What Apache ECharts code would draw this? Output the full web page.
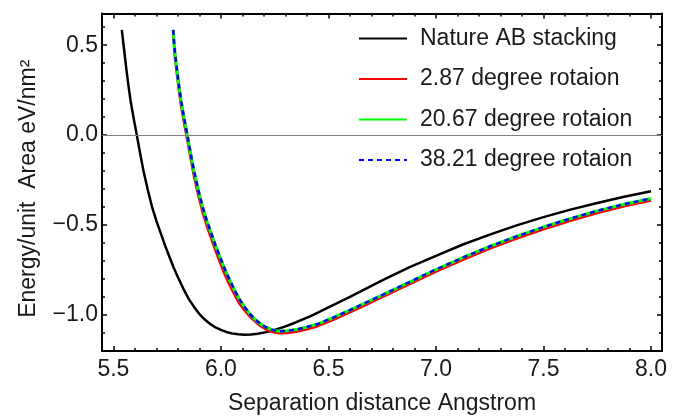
<!DOCTYPE html>
<html>
<head>
<meta charset="utf-8">
<script src="https://cdn.jsdelivr.net/npm/echarts@6/dist/echarts.min.js"></script>
<style>
html,body{margin:0;padding:0;background:#fff;}
#chart{width:679px;height:420px;}
</style>
</head>
<body>
<div id="chart"></div>
<script>
// ---- data ----
const seriesNames = ['Nature AB stacking', '2.87 degree rotaion', '20.67 degree rotaion', '38.21 degree rotaion'];

const blackX = [5.539, 5.55, 5.56, 5.57, 5.58, 5.595, 5.609, 5.625, 5.64, 5.66, 5.68, 5.70, 5.72, 5.74, 5.76, 5.78, 5.80, 5.825, 5.85, 5.875, 5.90, 5.925, 5.95, 5.975, 6.00, 6.025, 6.05, 6.08, 6.11, 6.14, 6.17, 6.21, 6.25, 6.30, 6.35, 6.42, 6.5, 6.6, 6.75, 6.875, 7.0, 7.125, 7.25, 7.375, 7.5, 7.625, 7.75, 7.875, 8.0];
const blackY = [0.585, 0.473, 0.37, 0.275, 0.19, 0.088, 0.0, -0.106, -0.2, -0.305, -0.4, -0.477, -0.545, -0.613, -0.675, -0.736, -0.79, -0.853, -0.91, -0.955, -0.995, -1.025, -1.05, -1.069, -1.083, -1.094, -1.102, -1.107, -1.11, -1.108, -1.104, -1.095, -1.083, -1.063, -1.04, -1.005, -0.958, -0.899, -0.808, -0.735, -0.671, -0.608, -0.553, -0.502, -0.456, -0.414, -0.377, -0.343, -0.312];

const rotX = [5.778, 5.785, 5.795, 5.805, 5.815, 5.83, 5.844, 5.86, 5.875, 5.895, 5.915, 5.935, 5.955, 5.975, 5.995, 6.015, 6.035, 6.06, 6.085, 6.11, 6.136, 6.16, 6.185, 6.21, 6.235, 6.255, 6.277, 6.31, 6.35, 6.40, 6.45, 6.525, 6.6, 6.675, 6.75, 6.875, 7.0, 7.125, 7.25, 7.375, 7.5, 7.625, 7.75, 7.875, 8.0];
const redY   = [0.575, 0.443, 0.34, 0.245, 0.16, 0.058, -0.03, -0.136, -0.23, -0.335, -0.43, -0.507, -0.575, -0.643, -0.705, -0.766, -0.82, -0.88, -0.935, -0.975, -1.011, -1.037, -1.062, -1.080, -1.092, -1.099, -1.102, -1.100, -1.093, -1.079, -1.062, -1.025, -0.985, -0.943, -0.901, -0.830, -0.759, -0.693, -0.631, -0.575, -0.523, -0.476, -0.433, -0.396, -0.364];
const greenY = [0.585, 0.473, 0.37, 0.275, 0.19, 0.088, 0.0, -0.106, -0.2, -0.305, -0.4, -0.477, -0.545, -0.613, -0.675, -0.736, -0.79, -0.853, -0.91, -0.955, -0.995, -1.025, -1.05, -1.068, -1.08, -1.087, -1.09, -1.088, -1.081, -1.067, -1.05, -1.013, -0.973, -0.931, -0.889, -0.818, -0.747, -0.681, -0.619, -0.563, -0.511, -0.464, -0.421, -0.384, -0.352];
const blueY  = [0.585, 0.473, 0.37, 0.275, 0.19, 0.088, 0.0, -0.106, -0.2, -0.305, -0.4, -0.477, -0.545, -0.613, -0.675, -0.736, -0.79, -0.853, -0.91, -0.955, -0.995, -1.025, -1.05, -1.068, -1.08, -1.087, -1.09, -1.088, -1.081, -1.067, -1.05, -1.013, -0.973, -0.931, -0.889, -0.818, -0.747, -0.681, -0.619, -0.563, -0.511, -0.464, -0.421, -0.384, -0.352];

const xMajor = [5.5, 6.0, 6.5, 7.0, 7.5, 8.0];
const xMinor = [5.5, 5.6, 5.7, 5.8, 5.9, 6.0, 6.1, 6.2, 6.3, 6.4, 6.5, 6.6, 6.7, 6.8, 6.9, 7.0, 7.1, 7.2, 7.3, 7.4, 7.5, 7.6, 7.7, 7.8, 7.9, 8.0];
const yMajor = [-1.0, -0.5, 0.0, 0.5];
const yMinor = [-1.2, -1.1, -1.0, -0.9, -0.8, -0.7, -0.6, -0.5, -0.4, -0.3, -0.2, -0.1, 0.0, 0.1, 0.2, 0.3, 0.4, 0.5, 0.6];

const xTitle = 'Separation distance Angstrom';
const yTitle = 'Energy/unit  Area eV/nm\u00B2';

// ---- chart ----
const FONT = "'Liberation Sans', Arial, sans-serif";
const FS = 23;
const X_MIN = 5.447, X_MAX = 8.051, Y_MIN = -1.2, Y_MAX = 0.676;

function pairs(xs, ys) { return xs.map((x, i) => [x, ys[i]]); }
function fmt(v) { return Number(v).toFixed(1).replace('-', '\u2212'); }

function xAx(pos, major, withLabel) {
  return {
    type: 'value', position: pos, min: X_MIN, max: X_MAX,
    axisLine: { show: major, onZero: false, lineStyle: { color: '#000', width: 2 } },
    axisTick: { show: true, inside: true, length: major ? 5 : 3, customValues: major ? xMajor : xMinor,
                lineStyle: { color: '#000', width: 1.5 } },
    axisLabel: withLabel ? { show: true, customValues: xMajor, formatter: fmt, color: '#1a1a1a',
                fontFamily: FONT, fontSize: FS, margin: 7 } : { show: false },
    splitLine: { show: false },
    name: withLabel ? xTitle : '', nameLocation: 'middle', nameGap: 41,
    nameTextStyle: { fontFamily: FONT, fontSize: FS, color: '#1a1a1a' }
  };
}
function yAx(pos, major, withLabel) {
  return {
    type: 'value', position: pos, min: Y_MIN, max: Y_MAX,
    axisLine: { show: major, onZero: false, lineStyle: { color: '#000', width: 2 } },
    axisTick: { show: true, inside: true, length: major ? 5 : 3, customValues: major ? yMajor : yMinor,
                lineStyle: { color: '#000', width: 1.5 } },
    axisLabel: withLabel ? { show: true, customValues: yMajor, formatter: fmt, color: '#1a1a1a',
                fontFamily: FONT, fontSize: FS, margin: 4 } : { show: false },
    splitLine: { show: false },
    name: withLabel ? yTitle : '', nameLocation: 'middle', nameGap: 62,
    nameTextStyle: { fontFamily: FONT, fontSize: FS, color: '#1a1a1a', padding: [0, 13, 0, 0] }
  };
}

function lineSeries(name, xs, ys, color, width, type) {
  return { name: name, type: 'line', data: pairs(xs, ys), symbol: 'none', smooth: false,
    lineStyle: { color: color, width: width, type: type || 'solid', join: 'round', cap: 'butt' },
    itemStyle: { color: color } };
}

const chart = echarts.init(document.getElementById('chart'), null, { renderer: 'canvas' });
const sBlack = lineSeries(seriesNames[0], blackX, blackY, '#000000', 2.5);
sBlack.markLine = { silent: true, symbol: 'none', label: { show: false },
  lineStyle: { color: '#808080', width: 1, type: 'solid' }, data: [{ yAxis: 0 }] };

chart.setOption({
  animation: false,
  backgroundColor: '#fff',
  grid: { left: 102, right: 17, top: 13.5, bottom: 63, containLabel: false },
  xAxis: [xAx('bottom', true, true), xAx('bottom', false, false), xAx('top', true, false), xAx('top', false, false)],
  yAxis: [yAx('left', true, true), yAx('left', false, false), yAx('right', true, false), yAx('right', false, false)],
  legend: {
    data: seriesNames, orient: 'vertical', left: 358, top: 27, padding: 0,
    itemWidth: 48, itemHeight: 14, itemGap: 17.5,
    itemStyle: { opacity: 0 },
    textStyle: { fontFamily: FONT, fontSize: FS, color: '#1a1a1a', lineHeight: 22, padding: [0, 0, 0, 8] }
  },
  series: [
    sBlack,
    lineSeries(seriesNames[1], rotX, redY, '#ff0000', 2.5),
    lineSeries(seriesNames[2], rotX, greenY, '#00ff00', 3),
    lineSeries(seriesNames[3], rotX, blueY, '#0000ff', 2.5, [5, 4])
  ]
});
</script>
</body>
</html>
